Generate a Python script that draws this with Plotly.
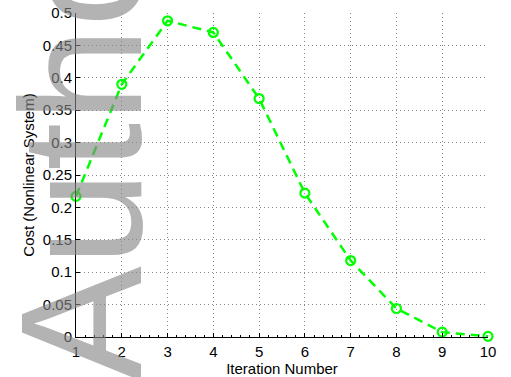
import plotly.graph_objects as go

# Cost of the nonlinear system at each iteration
iterations = [1, 2, 3, 4, 5, 6, 7, 8, 9, 10]
cost = [0.217, 0.390, 0.488, 0.470, 0.368, 0.222, 0.118, 0.044, 0.0075, 0.001]

x_ticks = [1, 2, 3, 4, 5, 6, 7, 8, 9, 10]
y_ticks = [0, 0.05, 0.1, 0.15, 0.2, 0.25, 0.3, 0.35, 0.4, 0.45, 0.5]
y_tick_text = ["0", "0.05", "0.1", "0.15", "0.2", "0.25", "0.3", "0.35", "0.4", "0.45", "0.5"]

W, H = 511, 377
L, R, T, B = 76, 23, 13, 40
pw, ph = W - L - R, H - T - B

green = "rgb(0,255,0)"
font = "Liberation Sans, Arial, Helvetica, sans-serif"

fig = go.Figure()
fig.add_trace(go.Scatter(
    x=iterations, y=cost,
    mode="lines+markers",
    line=dict(color=green, width=2.5, dash="9px,6px"),
    marker=dict(symbol="circle-open", size=9, color=green, line=dict(width=2.2, color=green)),
    cliponaxis=False,
    showlegend=False,
))

axis_common = dict(
    showline=True, linecolor="black", linewidth=1,
    mirror=False, automargin=False,
    ticks="inside", ticklen=4, tickcolor="black", tickwidth=1,
    showgrid=True, gridcolor="rgb(135,135,135)", gridwidth=1, griddash="1px,3px",
    zeroline=False,
    tickfont=dict(family=font, size=15, color="black"),
)

fig.update_xaxes(
    range=[1, 10], tickvals=x_ticks,
    ticklabelstandoff=1,
    title=dict(text="Iteration Number", font=dict(family=font, size=15, color="black"), standoff=7),
    minor=dict(ticks="inside", ticklen=2, tickcolor="black", dtick=0.2, showgrid=False),
    **axis_common,
)
fig.update_yaxes(
    range=[0, 0.5], tickvals=y_ticks, ticktext=y_tick_text,
    title=dict(text="Cost (Nonlinear System)", font=dict(family=font, size=15, color="black"), standoff=4),
    **axis_common,
)

# Large translucent watermark along the left edge
wx, wy = 81, 128
fig.add_annotation(
    text="Author", textangle=-90,
    xref="paper", yref="paper",
    x=(wx - L) / pw, y=(H - B - wy) / ph,
    xanchor="center", yanchor="middle",
    showarrow=False,
    font=dict(family=font, size=172, color="rgba(135,135,135,0.63)"),
)

fig.update_layout(
    width=W, height=H,
    margin=dict(l=L, r=R, t=T, b=B, pad=0),
    paper_bgcolor="white", plot_bgcolor="white",
)

fig.write_html("out.html")
